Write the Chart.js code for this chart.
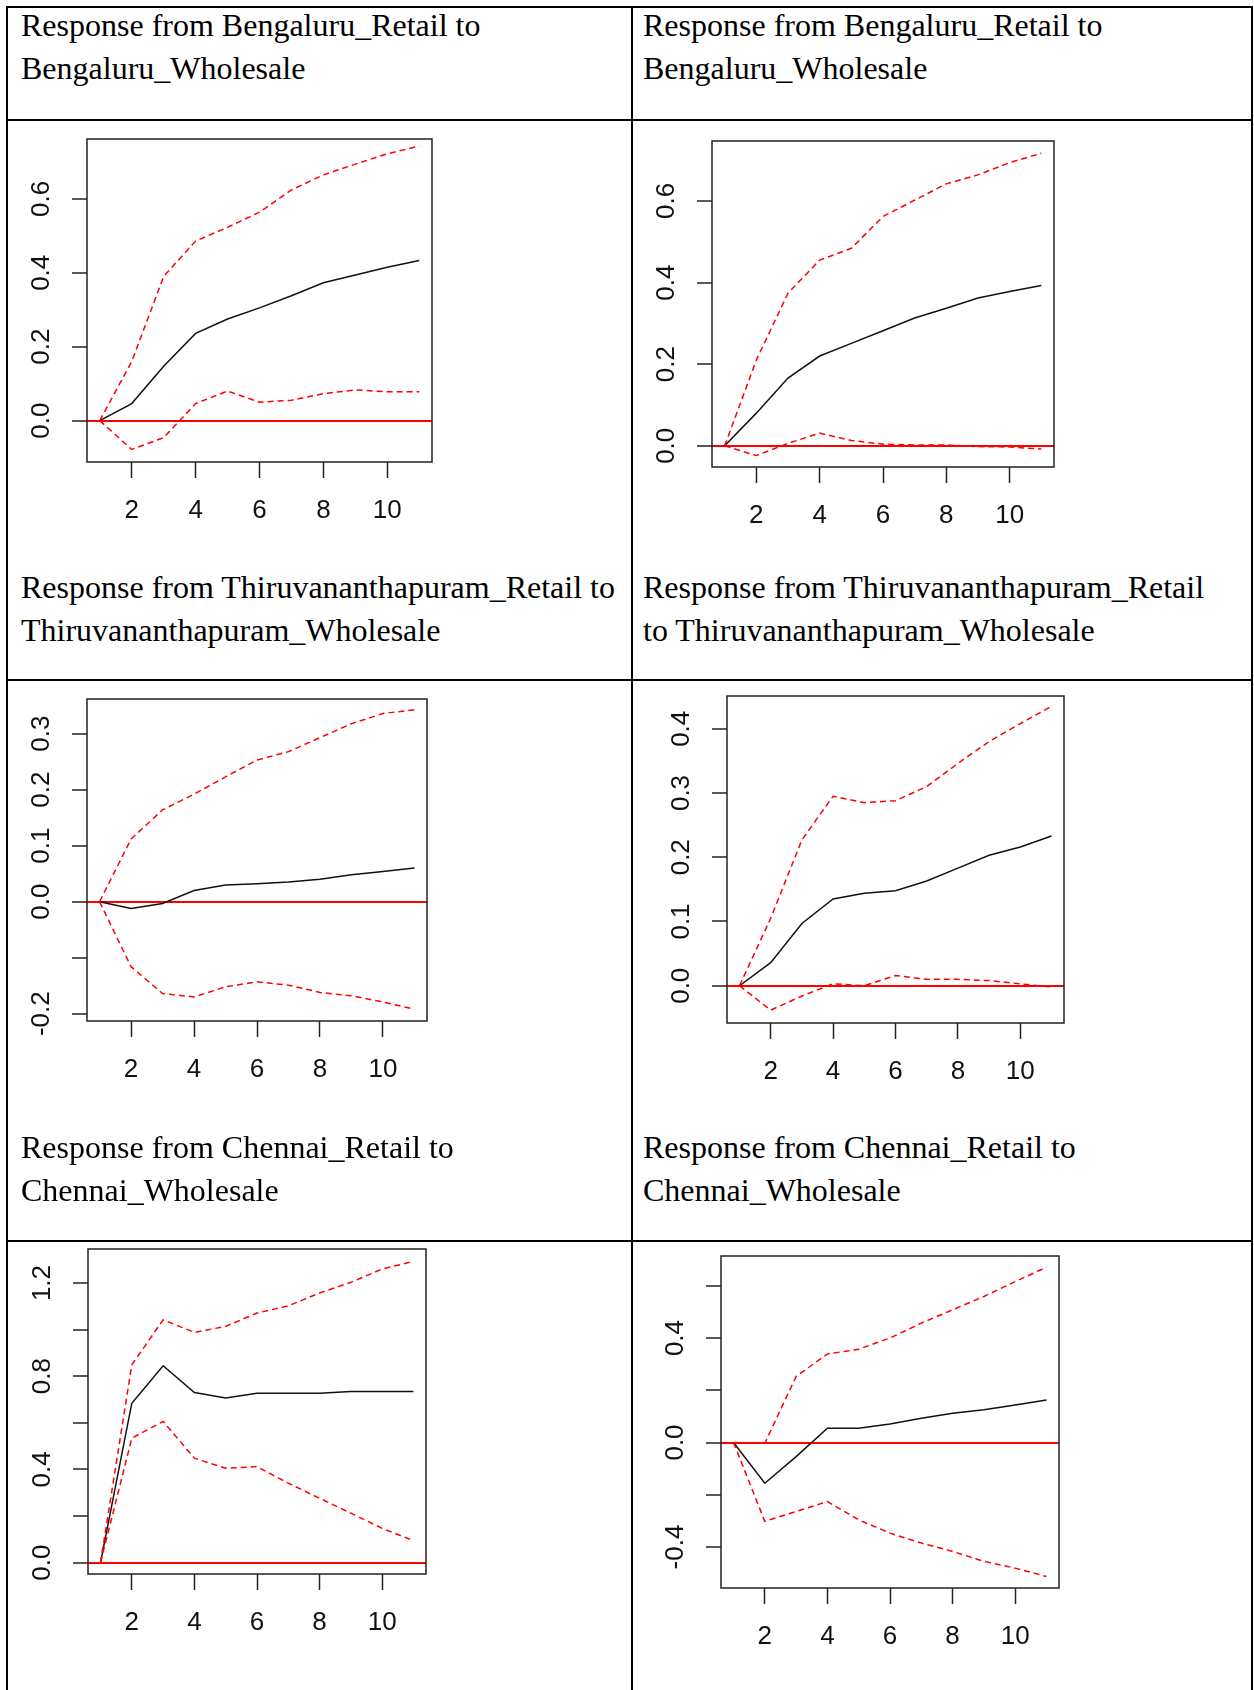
<!DOCTYPE html>
<html>
<head>
<meta charset="utf-8">
<title>Impulse responses Retail / Wholesale</title>
<script src="https://cdn.jsdelivr.net/npm/chart.js@4.4.1/dist/chart.umd.min.js"></script>
<style>
  html, body { margin: 0; padding: 0; background: #fff; }
  body { position: relative; width: 1254px; height: 1690px; overflow: hidden; }
  .rule { position: absolute; background: #000; }
  .cap {
    position: absolute;
    font-family: "Liberation Serif", "Times New Roman", serif;
    font-size: 32px;
    line-height: 43px;
    color: #000;
    white-space: nowrap;
  }
  canvas { position: absolute; }
</style>
</head>
<body>

<!-- table rules -->
<div class="rule" style="left:6px;top:6px;width:1247px;height:2px"></div>
<div class="rule" style="left:6px;top:119px;width:1247px;height:2px"></div>
<div class="rule" style="left:6px;top:679px;width:1247px;height:2px"></div>
<div class="rule" style="left:6px;top:1240px;width:1247px;height:2px"></div>
<div class="rule" style="left:6px;top:6px;width:2px;height:1684px"></div>
<div class="rule" style="left:631px;top:6px;width:2px;height:1684px"></div>
<div class="rule" style="left:1251px;top:6px;width:2px;height:1684px"></div>

<canvas id="c1"></canvas>
<canvas id="c2"></canvas>
<canvas id="c3"></canvas>
<canvas id="c4"></canvas>
<canvas id="c5"></canvas>
<canvas id="c6"></canvas>

<div class="cap" style="left:21px;top:4px">Response from Bengaluru_Retail to<br>Bengaluru_Wholesale</div>
<div class="cap" style="left:643px;top:4px">Response from Bengaluru_Retail to<br>Bengaluru_Wholesale</div>
<div class="cap" style="left:21px;top:566px">Response from Thiruvananthapuram_Retail to<br>Thiruvananthapuram_Wholesale</div>
<div class="cap" style="left:643px;top:566px">Response from Thiruvananthapuram_Retail<br>to Thiruvananthapuram_Wholesale</div>
<div class="cap" style="left:21px;top:1126px">Response from Chennai_Retail to<br>Chennai_Wholesale</div>
<div class="cap" style="left:643px;top:1126px">Response from Chennai_Retail to<br>Chennai_Wholesale</div>

<script>
// horizon steps and x axis
const steps = [1, 2, 3, 4, 5, 6, 7, 8, 9, 10, 11];
const xTicks = [2, 4, 6, 8, 10];
const xRange = [0.6, 11.4];

// Bengaluru, left
const irf1   = [0, 0.046, 0.147, 0.236, 0.275, 0.305, 0.338, 0.373, 0.394, 0.415, 0.433];
const upper1 = [0, 0.160, 0.390, 0.486, 0.523, 0.564, 0.624, 0.665, 0.694, 0.722, 0.743];
const lower1 = [0, -0.078, -0.046, 0.046, 0.080, 0.050, 0.055, 0.073, 0.083, 0.078, 0.078];
const yTicks1 = [0, 0.2, 0.4, 0.6];
const yLabels1 = ['0.0', '0.2', '0.4', '0.6'];
const yRange1 = [-0.112, 0.762];

// Bengaluru, right
const irf2   = [0, 0.080, 0.166, 0.220, 0.251, 0.282, 0.313, 0.337, 0.362, 0.378, 0.393];
const upper2 = [0, 0.210, 0.374, 0.455, 0.484, 0.562, 0.602, 0.642, 0.664, 0.694, 0.717];
const lower2 = [0, -0.024, 0.006, 0.031, 0.013, 0.004, 0.002, 0.002, -0.002, -0.003, -0.008];
const yTicks2 = [0, 0.2, 0.4, 0.6];
const yLabels2 = ['0.0', '0.2', '0.4', '0.6'];
const yRange2 = [-0.052, 0.747];

// Thiruvananthapuram, left
const irf3   = [0, -0.012, -0.003, 0.020, 0.030, 0.032, 0.035, 0.040, 0.048, 0.054, 0.060];
const upper3 = [0, 0.112, 0.164, 0.192, 0.223, 0.253, 0.268, 0.293, 0.318, 0.336, 0.343];
const lower3 = [0, -0.116, -0.164, -0.170, -0.152, -0.143, -0.149, -0.162, -0.168, -0.179, -0.192];
const yTicks3 = [-0.2, -0.1, 0, 0.1, 0.2, 0.3];
const yLabels3 = ['-0.2', '', '0.0', '0.1', '0.2', '0.3'];
const yRange3 = [-0.213, 0.362];

// Thiruvananthapuram, right
const irf4   = [0, 0.036, 0.097, 0.135, 0.144, 0.148, 0.163, 0.183, 0.203, 0.216, 0.233];
const upper4 = [0, 0.105, 0.227, 0.295, 0.285, 0.288, 0.310, 0.346, 0.380, 0.408, 0.435];
const lower4 = [0, -0.038, -0.016, 0.003, 0.000, 0.016, 0.010, 0.010, 0.008, 0.003, -0.002];
const yTicks4 = [0, 0.1, 0.2, 0.3, 0.4];
const yLabels4 = ['0.0', '0.1', '0.2', '0.3', '0.4'];
const yRange4 = [-0.058, 0.451];

// Chennai, left
const irf5   = [0, 0.684, 0.845, 0.730, 0.706, 0.727, 0.727, 0.727, 0.734, 0.734, 0.734];
const upper5 = [0, 0.849, 1.042, 0.988, 1.014, 1.071, 1.102, 1.157, 1.203, 1.260, 1.293];
const lower5 = [0, 0.534, 0.606, 0.448, 0.405, 0.412, 0.341, 0.276, 0.212, 0.147, 0.094];
const yTicks5 = [0, 0.2, 0.4, 0.6, 0.8, 1.0, 1.2];
const yLabels5 = ['0.0', '', '0.4', '', '0.8', '', '1.2'];
const yRange5 = [-0.049, 1.346];

// Chennai, right
const irf6   = [0, -0.156, -0.054, 0.055, 0.055, 0.071, 0.093, 0.112, 0.125, 0.144, 0.163];
const upper6 = [0, -0.003, 0.253, 0.339, 0.357, 0.400, 0.457, 0.508, 0.559, 0.616, 0.671];
const lower6 = [0, -0.302, -0.264, -0.226, -0.296, -0.347, -0.385, -0.417, -0.455, -0.481, -0.513];
const yTicks6 = [-0.4, -0.2, 0, 0.2, 0.4, 0.6];
const yLabels6 = ['-0.4', '', '0.0', '', '0.4', ''];
const yRange6 = [-0.557, 0.714];

// page layout: plot box [left, top, right, bottom] per panel
const panels = [
  { id: 'c1', box: [87, 139, 432, 462],    irf: irf1, upper: upper1, lower: lower1, ticks: yTicks1, labels: yLabels1, range: yRange1 },
  { id: 'c2', box: [712, 141, 1054, 467],  irf: irf2, upper: upper2, lower: lower2, ticks: yTicks2, labels: yLabels2, range: yRange2 },
  { id: 'c3', box: [87, 699, 427, 1021],   irf: irf3, upper: upper3, lower: lower3, ticks: yTicks3, labels: yLabels3, range: yRange3 },
  { id: 'c4', box: [727, 696, 1064, 1023], irf: irf4, upper: upper4, lower: lower4, ticks: yTicks4, labels: yLabels4, range: yRange4 },
  { id: 'c5', box: [88, 1249, 426, 1574],  irf: irf5, upper: upper5, lower: lower5, ticks: yTicks5, labels: yLabels5, range: yRange5 },
  { id: 'c6', box: [721, 1256, 1059, 1588], irf: irf6, upper: upper6, lower: lower6, ticks: yTicks6, labels: yLabels6, range: yRange6 }
];

const PAD_L = 100, PAD_T = 40, PAD_R = 30, PAD_B = 80;
const tickFont = { family: '"Liberation Sans", Arial, sans-serif', size: 26 };
const RED = '#ff0000';
const INK = '#222';

/**
 * toPoints: pairs the horizon steps with a series
 */
function toPoints(values) {
  return values.map((v, i) => ({ x: steps[i], y: v }));
}

/**
 * widest: width of the longest tick label (needed to centre the rotated labels)
 */
function widest(labels) {
  const ctx = document.createElement('canvas').getContext('2d');
  ctx.font = 'normal ' + tickFont.size + 'px ' + tickFont.family;
  return Math.max(...labels.map(t => ctx.measureText(t).width));
}

// closes the plot region like R's box()
const plotBox = {
  id: 'plotBox',
  afterDraw(chart) {
    const { ctx, chartArea: a } = chart;
    ctx.save();
    ctx.strokeStyle = INK;
    ctx.lineWidth = 1.5;
    ctx.strokeRect(a.left, a.top, a.right - a.left, a.bottom - a.top);
    ctx.restore();
  }
};

/**
 * initPanel: one impulse response plot
 */
function initPanel(p) {
  const [l, t, r, b] = p.box;
  const canvas = document.getElementById(p.id);
  canvas.width = (r - l) + PAD_L + PAD_R;
  canvas.height = (b - t) + PAD_T + PAD_B;
  canvas.style.left = (l - PAD_L) + 'px';
  canvas.style.top = (t - PAD_T) + 'px';

  const labelGap = 45 - 15 - widest(p.labels) / 2;

  return new Chart(canvas.getContext('2d'), {
    type: 'line',
    data: {
      datasets: [
        { data: toPoints(p.upper), borderColor: RED, borderWidth: 1.5, borderDash: [6, 4] },
        { data: toPoints(p.lower), borderColor: RED, borderWidth: 1.5, borderDash: [6, 4] },
        { data: toPoints(p.irf), borderColor: '#111', borderWidth: 1.5 }
      ]
    },
    options: {
      responsive: false,
      animation: false,
      events: [],
      layout: { padding: { left: 0, top: PAD_T, right: PAD_R, bottom: 0 } },
      elements: { point: { radius: 0 }, line: { tension: 0 } },
      plugins: { legend: { display: false }, tooltip: { enabled: false } },
      scales: {
        x: {
          type: 'linear',
          min: xRange[0],
          max: xRange[1],
          afterBuildTicks: axis => { axis.ticks = xTicks.map(v => ({ value: v })); },
          afterFit: axis => { axis.height = PAD_B; },
          border: { display: false },
          grid: { drawOnChartArea: false, tickLength: 16, tickColor: INK, tickWidth: 1.5 },
          ticks: {
            autoSkip: false, maxRotation: 0, padding: 17, color: '#111', font: tickFont,
            callback: (v, i) => String(xTicks[i])
          }
        },
        y: {
          type: 'linear',
          min: p.range[0],
          max: p.range[1],
          afterBuildTicks: axis => { axis.ticks = p.ticks.map(v => ({ value: v })); },
          afterFit: axis => { axis.width = PAD_L; },
          border: { display: false },
          grid: {
            // only the zero line is drawn across the plot, in red
            color: c => (c.tick && c.tick.value === 0 ? RED : 'rgba(0,0,0,0)'),
            lineWidth: 2,
            tickLength: 15,
            tickColor: INK,
            tickWidth: 1.5
          },
          ticks: {
            autoSkip: false, minRotation: 90, maxRotation: 90, crossAlign: 'center',
            padding: labelGap, color: '#111', font: tickFont,
            callback: (v, i) => p.labels[i]
          }
        }
      }
    },
    plugins: [plotBox]
  });
}

panels.forEach(initPanel);
</script>
</body>
</html>
